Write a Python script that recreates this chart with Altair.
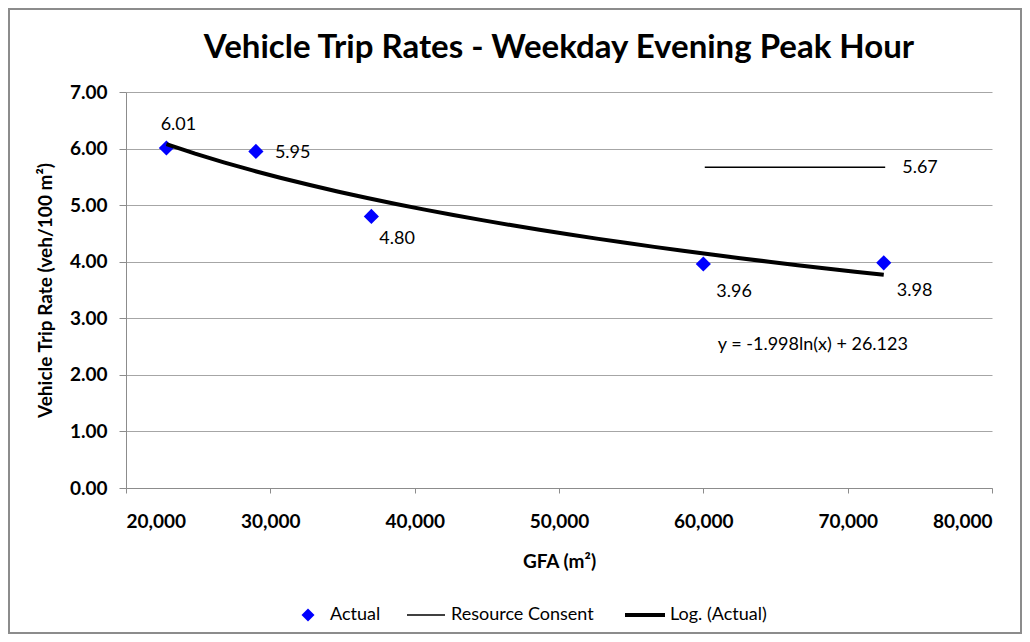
import altair as alt
import pandas as pd

# ---- data ----
GFA = [22800, 29000, 37000, 60000, 72500]
RATE = [6.01, 5.95, 4.80, 3.96, 3.98]
RC_GFA = [60100, 72600]
RC_RATE = [5.67, 5.67]
EQ_GFA = [61000]
EQ_RATE = [2.53]
EQ_TEXT = ["y = -1.998ln(x) + 26.123"]
SERIES = ["Actual", "Resource Consent", "Log. (Actual)"]
X_TICKS = [20000, 30000, 40000, 50000, 60000, 70000, 80000]
Y_TICKS = [0, 1, 2, 3, 4, 5, 6, 7]
TITLE = "Vehicle Trip Rates - Weekday Evening Peak Hour"
X_TITLE = "GFA (m²)"
Y_TITLE = "Vehicle Trip Rate  (veh/100 m²)"

FONT = "Lato"
W, H = 866, 396
FS = 18  # regular text size

actual = pd.DataFrame({"gfa": GFA, "rate": RATE,
                       "label": [f"{v:.2f}" for v in RATE]})
rc = pd.DataFrame({"gfa": RC_GFA, "rate": RC_RATE})
rc_lab = pd.DataFrame({"gfa": RC_GFA[-1:], "rate": RC_RATE[-1:],
                       "label": [f"{RC_RATE[-1]:.2f}"]})
eq = pd.DataFrame({"gfa": EQ_GFA, "rate": EQ_RATE, "label": EQ_TEXT})

xs = alt.Scale(domain=[20000, 80000], nice=False, zero=False)
ys = alt.Scale(domain=[0, 7], nice=False)

xenc = alt.X("gfa:Q", scale=xs, axis=alt.Axis(
    values=X_TICKS, format=",.0f", title=X_TITLE, grid=False,
    labelFont=FONT, labelFontSize=19, labelFontWeight="bold", labelColor="black",
    titleFont=FONT, titleFontSize=19, titleFontWeight="bold", titleColor="black",
    tickSize=5, tickColor="#8c8c8c", domainColor="#8c8c8c", labelPadding=19,
    titleY=73, titleBaseline="middle"))
yenc = alt.Y("rate:Q", scale=ys, axis=alt.Axis(
    values=Y_TICKS, format=".2f", title=Y_TITLE, grid=True,
    gridColor="#a6a6a6", gridWidth=1,
    labelFont=FONT, labelFontSize=19, labelFontWeight="bold", labelColor="black",
    titleFont=FONT, titleFontSize=19, titleFontWeight="bold", titleColor="black",
    tickSize=7, tickColor="#8c8c8c", domainColor="#8c8c8c", labelPadding=12,
    titleX=-81, titleY=H / 2, titleBaseline="middle", titleAlign="center", titleAngle=270))

base = alt.Chart(actual)

points = base.mark_point(shape="diamond", filled=True, color="#0000FF",
                         size=230, opacity=1).encode(x=xenc, y=yenc)

trend = base.transform_regression("gfa", "rate", method="log").mark_line(
    color="black", strokeWidth=4).encode(x="gfa:Q", y="rate:Q")

rc_line = alt.Chart(rc).mark_line(color="black", strokeWidth=1.3).encode(
    x="gfa:Q", y="rate:Q")

def lab(filter_expr, **kw):
    return base.transform_filter(filter_expr).mark_text(
        font=FONT, fontSize=FS, color="black", **kw).encode(
        x="gfa:Q", y="rate:Q", text="label:N")

lab1 = lab("datum.gfa == 22800", dx=12, dy=-23, align="center", baseline="middle")
lab2 = lab("datum.gfa == 29000", dx=19, dy=2, align="left", baseline="middle")
lab3 = lab("datum.gfa == 37000", dx=8, dy=23, align="left", baseline="middle")
lab4 = lab("datum.gfa >= 60000", dx=13, dy=28, align="left", baseline="middle")

rc_text = alt.Chart(rc_lab).mark_text(font=FONT, fontSize=FS, color="black",
                                       dx=17, dy=1, align="left", baseline="middle").encode(
    x="gfa:Q", y="rate:Q", text="label:N")

eq_text = alt.Chart(eq).mark_text(font=FONT, fontSize=FS, color="black",
                                  align="left", baseline="middle").encode(
    x="gfa:Q", y="rate:Q", text="label:N")

one = alt.Chart(pd.DataFrame({"k": [0]}))

# ---- title as text ----
title = one.mark_text(font=FONT, fontSize=33, fontWeight="bold", color="black",
                      align="center", baseline="middle").encode(
    x=alt.value(W / 2), y=alt.value(-44), text=alt.value(TITLE))

# ---- legend (drawn manually below the plot) ----
LY = 523
leg_pt = one.mark_point(shape="diamond", filled=True, color="#0000FF", size=170,
                        opacity=1).encode(x=alt.value(182), y=alt.value(LY))
leg_t1 = one.mark_text(font=FONT, fontSize=FS, align="left", baseline="middle",
                       color="black").encode(x=alt.value(204), y=alt.value(LY),
                                             text=alt.value(SERIES[0]))
leg_l2 = one.mark_rule(color="black", strokeWidth=1.3).encode(
    x=alt.value(281), x2=alt.value(319), y=alt.value(LY))
leg_t2 = one.mark_text(font=FONT, fontSize=FS, align="left", baseline="middle",
                       color="black").encode(x=alt.value(325), y=alt.value(LY),
                                             text=alt.value(SERIES[1]))
leg_l3 = one.mark_rule(color="black", strokeWidth=4).encode(
    x=alt.value(499), x2=alt.value(539), y=alt.value(LY))
leg_t3 = one.mark_text(font=FONT, fontSize=FS, align="left", baseline="middle",
                       color="black").encode(x=alt.value(544), y=alt.value(LY),
                                             text=alt.value(SERIES[2]))

border = one.mark_rect(fill=None, stroke="#8c8c8c", strokeWidth=2).encode(
    x=alt.value(-117), x2=alt.value(895), y=alt.value(-83), y2=alt.value(541))

chart = alt.layer(
    border, points, trend, rc_line, lab1, lab2, lab3, lab4, rc_text, eq_text,
    title, leg_pt, leg_t1, leg_l2, leg_t2, leg_l3, leg_t3
).properties(
    width=W, height=H,
    padding={"left": 118, "top": 84, "right": 30, "bottom": 146},
    autosize=alt.AutoSizeParams(type="none"),
    background="white",
).configure_view(stroke=None)

chart.save("out.html", embed_options={"renderer": "svg", "actions": False})
